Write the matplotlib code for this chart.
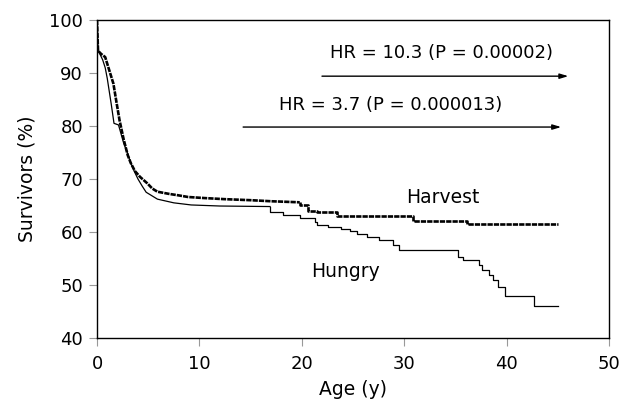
import matplotlib.pyplot as plt

## Survival curves of the Harvest and Hungry cohorts (Kaplan-Meier style)
# early part is dense -> drawn as a line, later part -> drawn as steps

# Harvest cohort
harvest_early_age = [0, 0.05, 0.1, 0.4, 0.8, 1.2, 1.6, 1.9, 2.2, 2.6, 3.0, 3.3, 3.7, 4.2, 4.9, 5.4, 5.9,
                     7.0, 8.0, 8.9, 10.5, 12.4, 15.0, 17.0, 19.8]
harvest_early_surv = [100, 97, 94.2, 93.6, 93.0, 90.5, 88.0, 84.5, 81.1, 77.5, 74.5, 73.0, 71.5, 70.4, 69.2, 68.2, 67.6,
                      67.2, 66.9, 66.6, 66.4, 66.2, 66.0, 65.8, 65.6]
harvest_late_age = [19.8, 20.6, 21.5, 23.4, 30.9, 36.1, 45.0]
harvest_late_surv = [65.1, 64.0, 63.7, 63.1, 62.1, 61.5, 61.5]

# Hungry cohort
hungry_early_age = [0, 0.05, 0.1, 0.55, 0.8, 1.0, 1.2, 1.4, 1.66, 2.1, 2.6, 3.0, 3.3, 3.7, 4.0, 4.4, 4.8, 5.9,
                    7.5, 9.2, 12.0, 16.9]
hungry_early_surv = [100, 97, 94.3, 92.5, 91.0, 89.0, 86.5, 84.0, 80.5, 80.2, 76.8, 74.8, 73.0, 71.2, 70.0, 68.7, 67.5, 66.2,
                     65.5, 65.1, 64.9, 64.8]
hungry_late_age = [16.9, 18.2, 19.8, 21.3, 21.5, 22.6, 23.8, 24.7, 25.4, 26.4, 27.5, 28.9, 29.5, 35.3, 35.7,
                   37.3, 37.6, 38.3, 38.7, 39.2, 39.8, 42.7, 45.0]
hungry_late_surv = [63.8, 63.2, 62.6, 61.9, 61.3, 60.9, 60.6, 60.2, 59.6, 59.0, 58.5, 57.5, 56.6, 55.3, 54.7,
                    53.8, 52.8, 51.9, 50.9, 49.7, 48.0, 46.0, 46.0]

xticks = [0, 10, 20, 30, 40, 50]
yticks = [40, 50, 60, 70, 80, 90, 100]

plt.rcParams['font.family'] = ['DejaVu Sans']

fig = plt.figure(figsize=(6.23, 4.08), dpi=100)
ax = fig.add_axes([0.1557, 0.1716, 0.8218, 0.7794])

harvest_style = dict(color='black', lw=1.9, linestyle=(0, (2.0, 0.4)))
hungry_style = dict(color='black', lw=0.9)

ax.plot(hungry_early_age, hungry_early_surv, **hungry_style)
ax.plot([hungry_early_age[-1]] + hungry_late_age, [hungry_early_surv[-1]] + hungry_late_surv,
        drawstyle='steps-post', **hungry_style)
ax.plot(harvest_early_age, harvest_early_surv, **harvest_style)
ax.plot([harvest_early_age[-1]] + harvest_late_age, [harvest_early_surv[-1]] + harvest_late_surv,
        drawstyle='steps-post', **harvest_style)

ax.set_xlim(0, 50)
ax.set_ylim(40, 100)
ax.set_xticks(xticks)
ax.set_yticks(yticks)
ax.tick_params(axis='both', labelsize=13, length=6, width=0.8, color='#999999',
               direction='out', top=False, right=False, pad=4)
ax.tick_params(axis='x', pad=6)
for s in ax.spines.values():
    s.set_color('black')
    s.set_linewidth(1.0)

ax.set_xlabel('Age (y)', fontsize=13.5, labelpad=5)
ax.set_ylabel('Survivors (%)', fontsize=13.5, labelpad=9)

ax.text(30.2, 66.5, 'Harvest', fontsize=13.5, ha='left', va='center')
ax.text(20.9, 52.6, 'Hungry', fontsize=13.5, ha='left', va='center')

ax.text(22.8, 93.8, 'HR = 10.3 (P = 0.00002)', fontsize=13, ha='left', va='center')
ax.annotate('', xy=(46.3, 89.4), xytext=(21.7, 89.4),
            arrowprops=dict(arrowstyle='-|>,head_length=0.5,head_width=0.15', color='black', lw=1))
ax.text(17.8, 84.0, 'HR = 3.7 (P = 0.000013)', fontsize=13, ha='left', va='center')
ax.annotate('', xy=(45.6, 79.8), xytext=(14.0, 79.8),
            arrowprops=dict(arrowstyle='-|>,head_length=0.5,head_width=0.15', color='black', lw=1))

plt.savefig('out.png', dpi=100)
